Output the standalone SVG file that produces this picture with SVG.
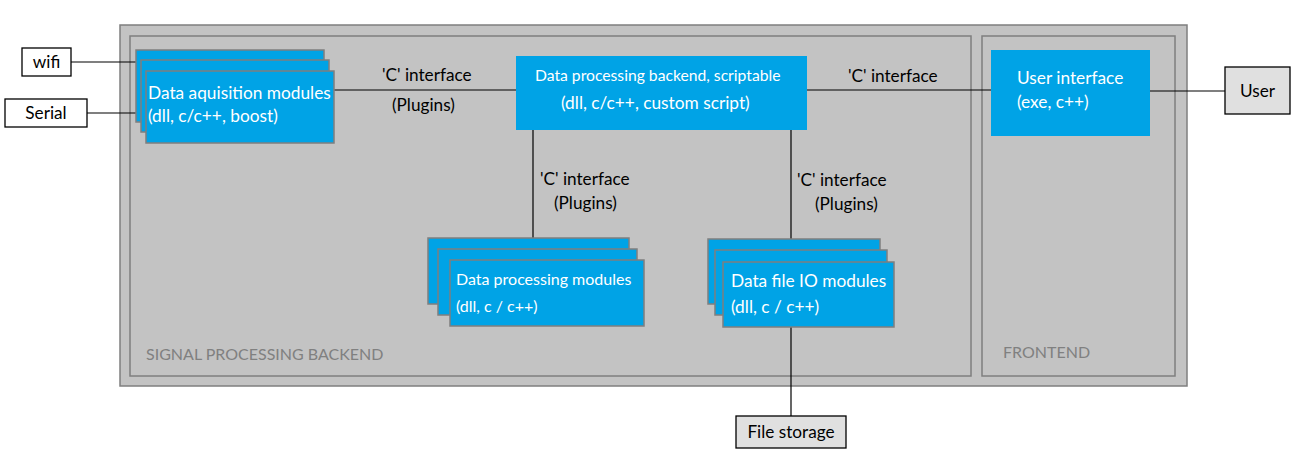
<svg xmlns="http://www.w3.org/2000/svg" width="1295" height="454" viewBox="0 0 1295 454">
<style>
.frame{fill:#c3c3c3;stroke:#7f7f7f;stroke-width:1.5}
.mod{fill:#00a3e6;stroke:#7f7f7f;stroke-width:1.5}
.main{fill:#00a3e6;stroke:none}
.ext{fill:#ffffff;stroke:#000;stroke-width:1.3}
.ext2{fill:#e0e0e0;stroke:#000;stroke-width:1.3}
.wt{font-family:Lato,"Liberation Sans",sans-serif;font-size:17.3px;fill:#ffffff}
.ws{font-family:Lato,"Liberation Sans",sans-serif;font-size:16px;fill:#ffffff}
.bt{font-family:Lato,"Liberation Sans",sans-serif;font-size:17.2px;fill:#000}
.gt{font-family:Lato,"Liberation Sans",sans-serif;font-size:16px;fill:#808080}
.conn{stroke:#000;stroke-width:1.2;fill:none}
</style>
<g id="outer">
<rect class="frame" x="120" y="25" width="1067" height="361"/>
</g>
<g id="signal-processing-backend">
<rect class="frame" x="130" y="36" width="841" height="340"/>
<text class="gt" x="146" y="360">SIGNAL PROCESSING BACKEND</text>
</g>
<g id="frontend">
<rect class="frame" x="982" y="36" width="193" height="340"/>
<text class="gt" x="1003" y="358">FRONTEND</text>
</g>
<g id="connectors">
<line class="conn" x1="71" y1="62" x2="136" y2="62"/>
<line class="conn" x1="87" y1="113" x2="136" y2="113"/>
<line class="conn" x1="334" y1="90" x2="516" y2="90"/>
<line class="conn" x1="807" y1="90" x2="991" y2="90"/>
<line class="conn" x1="1150" y1="91" x2="1225" y2="91"/>
<line class="conn" x1="533" y1="130" x2="533" y2="238"/>
<line class="conn" x1="791" y1="130" x2="791" y2="239"/>
<line class="conn" x1="791" y1="327" x2="791" y2="416"/>
<text class="bt" x="382" y="81">'C' interface</text>
<text class="bt" x="392" y="111">(Plugins)</text>
<text class="bt" x="848" y="82">'C' interface</text>
<text class="bt" x="540" y="185">'C' interface</text>
<text class="bt" x="554" y="209">(Plugins)</text>
<text class="bt" x="797" y="186">'C' interface</text>
<text class="bt" x="815" y="210">(Plugins)</text>
</g>
<g id="wifi">
<rect class="ext" x="22" y="48" width="49" height="28"/>
<text class="bt" x="46.5" y="68" text-anchor="middle">wifi</text>
</g>
<g id="serial">
<rect class="ext" x="5" y="99" width="82" height="28"/>
<text class="bt" x="46" y="119" text-anchor="middle">Serial</text>
</g>
<g id="data-acquisition-modules">
<rect class="mod" x="136" y="50" width="188" height="72"/>
<rect class="mod" x="141" y="60" width="188" height="72"/>
<rect class="mod" x="146" y="71" width="188" height="72"/>
<text class="wt" x="148" y="99">Data aquisition modules</text>
<text class="wt" x="148" y="122">(dll, c/c++, boost)</text>
</g>
<g id="backend">
<rect class="main" x="516" y="56" width="291" height="74"/>
<text class="ws" x="535" y="81" style="font-size:15.7px">Data processing backend, scriptable</text>
<text class="wt" x="561" y="109">(dll, c/c++, custom script)</text>
</g>
<g id="data-processing-modules">
<rect class="mod" x="428" y="238" width="201" height="66"/>
<rect class="mod" x="438" y="249" width="199" height="66"/>
<rect class="mod" x="450" y="260" width="194" height="66"/>
<text class="ws" x="456" y="285">Data processing modules</text>
<text class="ws" x="456" y="312">(dll, c / c++)</text>
</g>
<g id="data-file-io-modules">
<rect class="mod" x="708" y="239" width="172" height="65"/>
<rect class="mod" x="715" y="250" width="172" height="65"/>
<rect class="mod" x="723" y="262" width="171" height="65"/>
<text class="wt" x="731" y="287">Data file IO modules</text>
<text class="wt" x="731" y="313">(dll, c / c++)</text>
</g>
<g id="user-interface">
<rect class="main" x="991" y="50" width="159" height="86"/>
<text class="wt" x="1017" y="84">User interface</text>
<text class="wt" x="1017" y="108">(exe, c++)</text>
</g>
<g id="user">
<rect class="ext2" x="1225" y="67" width="65" height="47"/>
<text class="bt" x="1257.5" y="97" text-anchor="middle">User</text>
</g>
<g id="file-storage">
<rect class="ext2" x="736" y="416" width="110" height="32"/>
<text class="bt" x="791" y="438" text-anchor="middle">File storage</text>
</g>
</svg>
